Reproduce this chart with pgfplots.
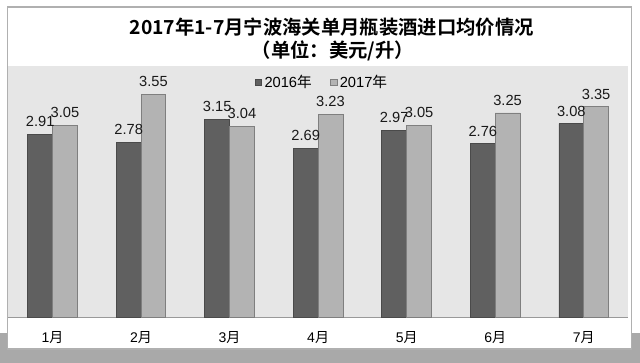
\documentclass[border=0pt]{standalone}
\usepackage{pgfplots}
\pgfplotsset{compat=1.18}
\usepackage{fontspec}
\setmainfont{Liberation Sans}
\newfontfamily\cjk{Noto Sans CJK SC}[BoldFont={Noto Sans CJK SC Bold}]
\definecolor{bgplot}{HTML}{E6E6E6}
\definecolor{darkbar}{HTML}{606060}
\definecolor{darkedge}{HTML}{4A4A4A}
\definecolor{lightbar}{HTML}{B3B3B3}
\definecolor{lightedge}{HTML}{7F7F7F}
\definecolor{strip}{HTML}{A9A9A9}
\definecolor{frameline}{HTML}{B0B0B0}
\pgfplotstableread{
x y
0 2.91
1 2.78
2 3.15
3 2.69
4 2.97
5 2.76
6 3.08
}\dataA
\pgfplotstableread{
x y
0 3.05
1 3.55
2 3.04
3 3.23
4 3.05
5 3.25
6 3.35
}\dataB
\begin{document}
\begin{tikzpicture}
\path[use as bounding box] (0,0) rectangle (480pt,272.25pt);
\fill[strip] (0,0) rectangle (480pt,22.5pt);
\filldraw[fill=white, draw=frameline, line width=1pt] (5.5pt,10.5pt) rectangle (473.5pt,267pt);
\begin{axis}[
  at={(6.2pt,34pt)}, anchor=south west,
  scale only axis, width=464.8pt, height=189pt,
  xmin=-0.5, xmax=6.5, ymin=0, ymax=4,
  axis background/.style={fill=bgplot},
  axis x line*=bottom, axis y line=none,
  x axis line style={draw=black!40, line width=0.8pt, -},
  xtick={0,1,2,3,4,5,6},
  xticklabels={1{\cjk 月},2{\cjk 月},3{\cjk 月},4{\cjk 月},5{\cjk 月},6{\cjk 月},7{\cjk 月}},
  major tick length=0pt,
  xticklabel style={anchor=center, yshift=-15pt, font=\fontsize{10.5}{12}\selectfont},
  ybar=0pt, bar width=0.28,
  nodes near coords={\pgfmathprintnumber[fixed,fixed zerofill,precision=2,assume math mode=true]{\pgfplotspointmeta}},
  every node near coord/.append style={font=\fontsize{11}{12}\selectfont, text=black!90, inner sep=0.5pt, yshift=4.8pt},
  legend style={at={(0.507,0.935)}, anchor=center, draw=none, fill=none,
    font=\fontsize{11}{12}\selectfont, inner sep=0pt,
    /tikz/every even column/.append style={column sep=12pt}},
  legend columns=2,
]
\addplot[fill=darkbar, draw=darkedge, line width=0.6pt,
  legend image code/.code={\draw[fill=darkbar, draw=darkedge, line width=0.4pt] (0pt,-2.3pt) rectangle (4.6pt,2.3pt);}]
  table[x=x,y=y] {\dataA};
\addplot[fill=lightbar, draw=lightedge, line width=0.6pt,
  legend image code/.code={\draw[fill=lightbar, draw=lightedge, line width=0.4pt] (0pt,-2.3pt) rectangle (4.6pt,2.3pt);}]
  table[x=x,y=y] {\dataB};
\legend{2016{\cjk 年},2017{\cjk 年}}
\end{axis}
\node[font=\cjk\bfseries\fontsize{14.5}{16}\selectfont] at (248.8pt,252.2pt) {2017年1-7月宁波海关单月瓶装酒进口均价情况};
\node[font=\cjk\bfseries\fontsize{14.5}{16}\selectfont] at (249.7pt,234.4pt) {（单位：美元/升）};
\end{tikzpicture}
\end{document}
